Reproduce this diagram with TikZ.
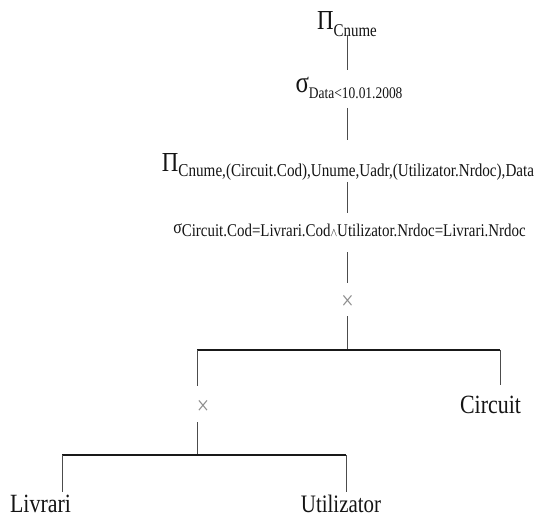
\documentclass[tikz,border=0pt]{standalone}
\usepackage{fontspec}
\setmainfont{Liberation Serif}
\usepackage{graphicx}
\usetikzlibrary{calc}
\newcommand{\vs}[1]{\scalebox{1}[1.2]{#1}}
\newcommand{\fs}[1]{\fontsize{#1}{#1}\selectfont}
\begin{document}
\begin{tikzpicture}[x=1bp,y=-1bp,
  lbl/.style={inner sep=0pt, anchor=base, text=black!92},
  opx/.style={inner sep=0pt, text=black!45, font=\fs{22}},
  vline/.style={line width=0.9bp, black!70},
  hline/.style={line width=1.3bp, black!90}]
\useasboundingbox (0,0) rectangle (535,523);
\fill[white] (0,0) rectangle (535,523);
% labels
\node[lbl] (p1) at (347,30) {\vs{{\fs{23}Π}\raisebox{-5.6bp}{\fs{15}Cnume}}};
\node[lbl] (s1) at (349,93) {\vs{{\fs{25}σ}\raisebox{-5bp}{\fs{13.5}Data<10.01.2008}}};
\node[lbl] (p2) at (348,172) {\vs{{\fs{23}Π}\raisebox{-3.8bp}{\fs{15.2}Cnume,(Circuit.Cod),Unume,Uadr,(Utilizator.Nrdoc),Data}}};
\node[lbl] (s2) at (349.5,233) {\vs{{\fs{16}σ}\raisebox{-3.3bp}{\fs{15}Circuit.Cod=Livrari.Cod{\fs{10}$\wedge$}Utilizator.Nrdoc=Livrari.Nrdoc}}};
\node[opx] (x1) at (347.5,302.5) {\vs{×}};
\node[opx] (x2) at (203,407.5) {\vs{×}};
\node[lbl] (c) at (490.5,413) {\vs{\fs{22}Circuit}};
\node[lbl] (liv) at (40.5,512) {\vs{\fs{22}Livrari}};
\node[lbl] (uti) at (341,512) {\vs{\fs{21}Utilizator}};
% junctions
\coordinate (j1) at (347,350);
\coordinate (jl) at (197,350);
\coordinate (jr) at (500,350);
\coordinate (j2) at (197,455);
\coordinate (kl) at (62,455);
\coordinate (kr) at (346,455);
% spine
\draw[vline] ($(p1.base -| j1)+(0,5)$) -- ($(s1.base -| j1)+(0,-23)$);
\draw[vline] ($(s1.base -| j1)+(0,15)$) -- ($(p2.base -| j1)+(0,-32)$);
\draw[vline] ($(p2.base -| j1)+(0,10)$) -- ($(s2.base -| j1)+(0,-20)$);
\draw[vline] ($(s2.base -| j1)+(0,19)$) -- ($(x1.center -| j1)+(0,-19.5)$);
\draw[vline] ($(x1.center -| j1)+(0,13.5)$) -- (j1);
% first product
\draw[hline] (jl) -- (jr);
\draw[vline] (jl) -- ($(x2.center -| jl)+(0,-21.5)$);
\draw[vline] (jr) -- ($(c.base -| jr)+(0,-28)$);
% second product
\draw[vline] ($(x2.center -| j2)+(0,14.5)$) -- (j2);
\draw[hline] (kl) -- (kr);
\draw[vline] (kl) -- ($(liv.base -| kl)+(0,-20)$);
\draw[vline] (kr) -- ($(uti.base -| kr)+(0,-20)$);
\end{tikzpicture}
\end{document}
